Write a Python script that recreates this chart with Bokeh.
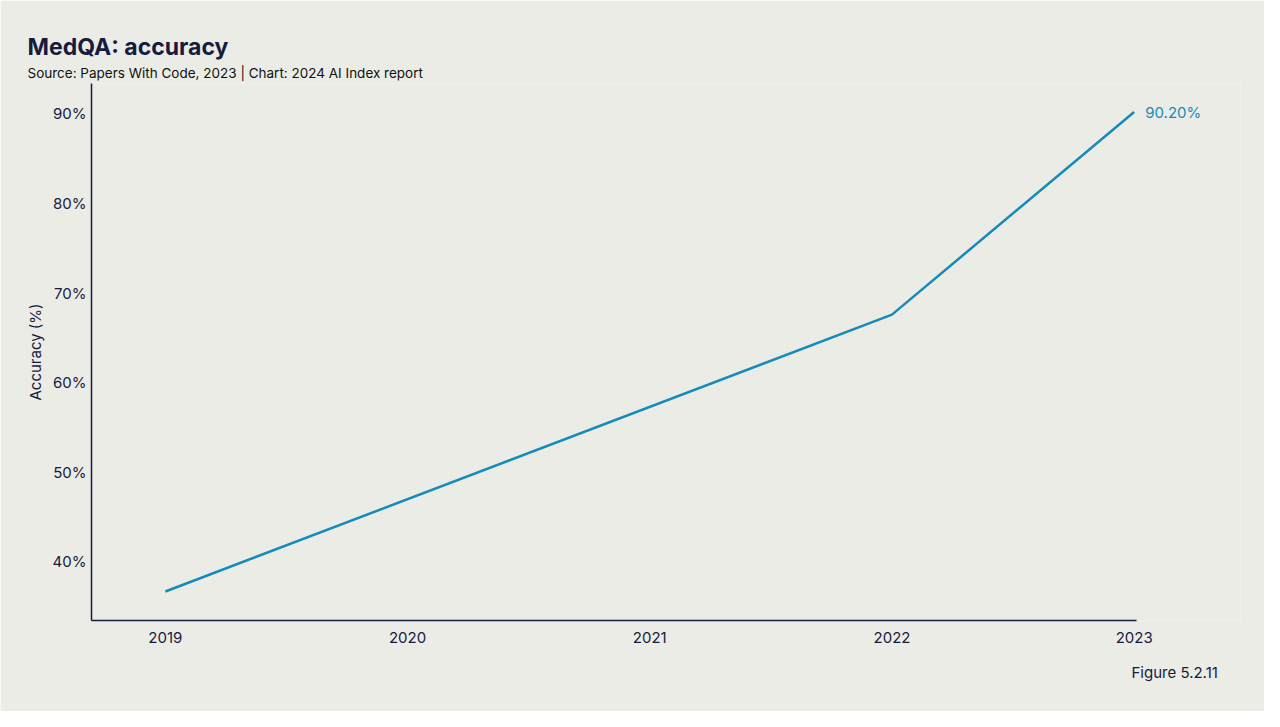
from bokeh.plotting import figure
from bokeh.models import Range1d, FixedTicker, PrintfTickFormatter, Title, Label
from bokeh.embed import file_html
from bokeh.resources import INLINE

years = [2019, 2022, 2023]
accuracy = [36.7, 67.6, 90.2]
x_ticks = [2019, 2020, 2021, 2022, 2023]
y_ticks = [40, 50, 60, 70, 80, 90]

BG = "#ecece6"
INK = "#161b40"
LINE = "#168abb"
FONT = "Inter"

X0, XAXIS_END, X1 = 2018.695, 2023.008, 2023.439

p = figure(width=1264, height=711, output_backend="svg", toolbar_location=None,
           title=None, x_range=Range1d(X0, X1), y_range=Range1d(33.46, 93.39),
           min_border_left=91, min_border_right=24, min_border_top=83, min_border_bottom=91)
p.background_fill_color = BG
p.border_fill_color = BG
p.outline_line_color = None
p.xgrid.visible = False
p.ygrid.visible = False

p.line(years, accuracy, line_color=LINE, line_width=2.5)

for ax in (p.xaxis[0], p.yaxis[0]):
    ax.axis_line_color = INK
    ax.axis_line_width = 1.5
    ax.major_tick_line_color = None
    ax.minor_tick_line_color = None
    ax.major_tick_out = 0
    ax.minor_tick_out = 0
    ax.major_label_text_color = INK
    ax.major_label_text_font = FONT
    ax.major_label_text_font_size = "15px"

p.xaxis.bounds = (X0, XAXIS_END)
p.xaxis.ticker = FixedTicker(ticks=x_ticks)
p.xaxis.major_label_standoff = 11
p.yaxis.ticker = FixedTicker(ticks=y_ticks)
p.yaxis.formatter = PrintfTickFormatter(format="%d%%")
p.yaxis.major_label_standoff = 5
p.yaxis.axis_label = "Accuracy (%)"
p.yaxis.axis_label_text_font = FONT
p.yaxis.axis_label_text_font_style = "normal"
p.yaxis.axis_label_text_font_size = "15px"
p.yaxis.axis_label_text_color = INK
p.yaxis.axis_label_standoff = 5

p.add_layout(Label(x=years[-1], y=accuracy[-1], text=f"{accuracy[-1]:.2f}%", x_offset=11,
                   text_baseline="middle", text_color=LINE, text_font=FONT,
                   text_font_size="15px"))

p.add_layout(Title(text="Source: Papers With Code, 2023 | Chart: 2024 AI Index report",
                   align="left", offset=-64, standoff=6, text_font=FONT,
                   text_font_size="13.5px", text_font_style="normal", text_color="#111111"), "above")
p.add_layout(Title(text="MedQA: accuracy", align="left", offset=-64, standoff=-3,
                   text_font=FONT, text_font_size="23px", text_font_style="bold",
                   text_color=INK), "above")
p.add_layout(Title(text="Figure 5.2.11", align="left", offset=1040, standoff=30,
                   text_font=FONT, text_font_size="15px", text_font_style="normal",
                   text_color=INK), "below")

open("out.html", "w").write(file_html(p, INLINE))
